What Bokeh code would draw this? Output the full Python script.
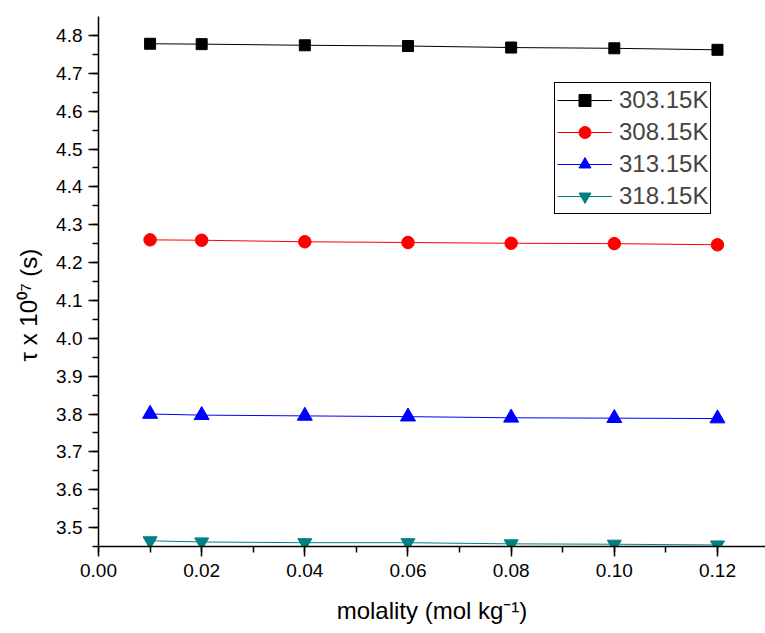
from bokeh.plotting import figure
from bokeh.models import (Range1d, SingleIntervalTicker, NumeralTickFormatter,
                          Legend, LegendItem, Title)
from bokeh.embed import file_html
from bokeh.resources import INLINE

# ---- data ----
molality = [0.01, 0.02, 0.04, 0.06, 0.08, 0.10, 0.12]
tau_303 = [4.778, 4.777, 4.774, 4.772, 4.768, 4.766, 4.762]
tau_308 = [4.260, 4.259, 4.255, 4.253, 4.251, 4.250, 4.247]
tau_313 = [3.800, 3.797, 3.795, 3.793, 3.790, 3.789, 3.788]
tau_318 = [3.465, 3.462, 3.460, 3.460, 3.457, 3.456, 3.454]
series_labels = ["303.15K", "308.15K", "313.15K", "318.15K"]
x_title = "molality (mol kg\u207b\u00b9)"
y_title = "\u03c4 x 10\u2070\u2077 (s)"

series = [tau_303, tau_308, tau_313, tau_318]
colors = ["#000000", "#FF0000", "#0000FF", "#008080"]
markers = ["square", "circle", "triangle", "inverted_triangle"]
sizes = [11, 12.5, 15, 14]

FONT = "Liberation Sans"

p = figure(width=765, height=633,
           x_range=Range1d(0, 0.12931), y_range=Range1d(3.45, 4.85),
           output_backend="svg", toolbar_location=None,
           min_border_left=98, min_border_top=16, min_border_right=0,
           min_border_bottom=87)
p.grid.visible = False
p.outline_line_color = None
p.background_fill_color = "white"

p.xaxis.ticker = SingleIntervalTicker(interval=0.02, num_minor_ticks=2)
p.yaxis.ticker = SingleIntervalTicker(interval=0.1, num_minor_ticks=2)
p.xaxis.formatter = NumeralTickFormatter(format="0.00")
p.yaxis.formatter = NumeralTickFormatter(format="0.0")

for ax in (p.xaxis[0], p.yaxis[0]):
    ax.axis_line_width = 1.5
    ax.axis_line_color = "black"
    ax.major_tick_line_width = 1.5
    ax.minor_tick_line_width = 1.5
    ax.major_tick_line_color = "black"
    ax.minor_tick_line_color = "black"
    ax.major_tick_in = 0
    ax.major_tick_out = 10
    ax.minor_tick_in = 0
    ax.minor_tick_out = 6
    ax.major_label_text_font = FONT
    ax.major_label_text_font_size = "19px"
    ax.major_label_text_color = "black"
    ax.axis_label_text_font = FONT
    ax.axis_label_text_font_style = "normal"
    ax.axis_label_text_color = "black"
p.xaxis.major_label_standoff = 7
p.yaxis.major_label_standoff = 6

p.xaxis.axis_label = x_title
p.xaxis.axis_label_text_font_size = "24px"
p.xaxis.axis_label_standoff = 17

# y-axis title: placed beside the axis, lower than centre as in the reference
p.add_layout(Title(text=y_title, align="left", offset=185, standoff=24,
                   text_font=FONT, text_font_size="24px",
                   text_font_style="normal", text_color="black"), "left")

items = []
for vals, c, m, s, lab in zip(series, colors, markers, sizes, series_labels):
    ln = p.line(molality, vals, line_color=c, line_width=1)
    sc = p.scatter(molality, vals, marker=m, size=s, fill_color=c, line_color=c)
    items.append(LegendItem(label=lab, renderers=[ln, sc]))

legend = Legend(items=items, location=(456, 332), glyph_width=55,
                glyph_height=30, label_height=30, spacing=2, padding=2,
                label_standoff=7, border_line_color="black",
                border_line_width=1, border_line_alpha=1,
                label_text_font=FONT, label_text_font_size="24px",
                background_fill_color="white", background_fill_alpha=1,
                margin=0)
p.add_layout(legend)

open("out.html", "w").write(file_html(p, INLINE))
